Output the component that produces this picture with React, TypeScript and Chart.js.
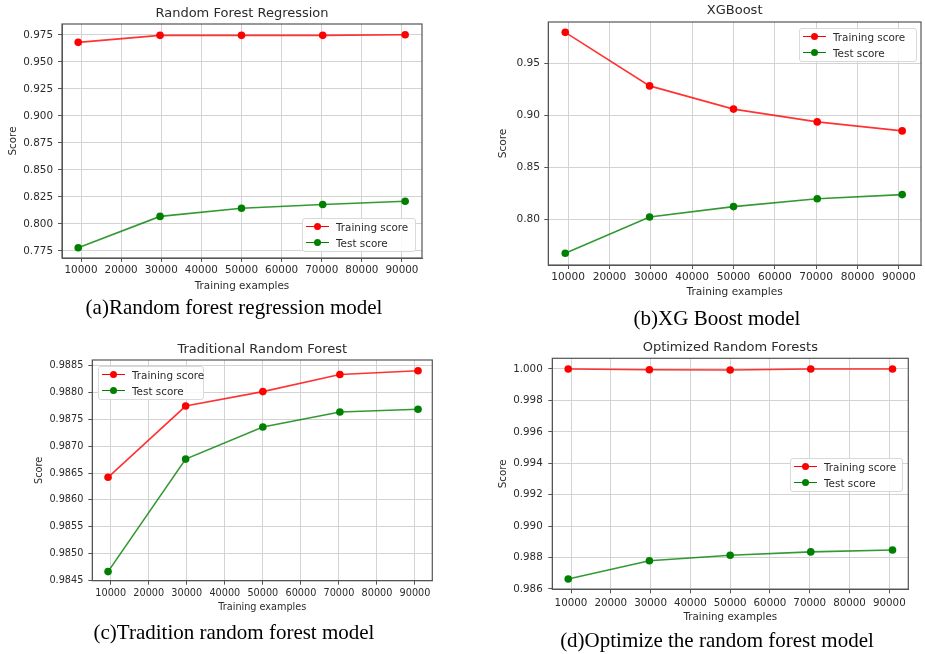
import React, { useEffect, useRef } from "react";
import { Chart, registerables } from "chart.js";
Chart.register(...registerables);

// ---------- data ----------
const trainSizes = [9300, 29700, 50000, 70250, 90800];
const xTicks = [10000, 20000, 30000, 40000, 50000, 60000, 70000, 80000, 90000];

const rfTrain = [0.968, 0.9745, 0.9745, 0.9745, 0.975];
const rfTest = [0.778, 0.807, 0.8145, 0.818, 0.821];
const rfYTicks = [0.775, 0.8, 0.825, 0.85, 0.875, 0.9, 0.925, 0.95, 0.975];

const xgbTrain = [0.98, 0.9284, 0.906, 0.8937, 0.885];
const xgbTest = [0.767, 0.802, 0.812, 0.8196, 0.8236];
const xgbYTicks = [0.8, 0.85, 0.9, 0.95];

const tradTrain = [0.98642, 0.98775, 0.98802, 0.98834, 0.98841];
const tradTest = [0.98466, 0.98676, 0.98736, 0.98764, 0.98769];
const tradYTicks = [0.9845, 0.985, 0.9855, 0.986, 0.9865, 0.987, 0.9875, 0.988, 0.9885];

const optTrain = [1.0, 0.99995, 0.99994, 1.0, 1.0];
const optTest = [0.98664, 0.9878, 0.98815, 0.98836, 0.98848];
const optYTicks = [0.986, 0.988, 0.99, 0.992, 0.994, 0.996, 0.998, 1.0];

const seriesLabels = ["Training score", "Test score"];
const titles = ["Random Forest Regression", "XGBoost", "Traditional Random Forest", "Optimized Random Forests"];
const captions = [
  "(a)Random forest regression model",
  "(b)XG Boost model",
  "(c)Tradition random forest model",
  "(d)Optimize the random forest model",
];

// ---------- layout ----------
type Panel = {
  left: number; top: number; w: number; h: number;
  train: number[]; test: number[]; yTicks: number[]; dec: number;
  xMin: number; xMax: number; yMin: number; yMax: number;
  yAxisW: number; xAxisH: number; padRight: number;
  titleTop: number; titleBottom: number;
  fs: number; xTickPad: number; yTickPad: number; xTitleBottom: number; yTitleTop: number;
  legend: { x: number; y: number; w: number };
  caption: { cx: number; cy: number };
};

const panels: Panel[] = [
  {
    left: 0, top: 0, w: 460, h: 296, train: rfTrain, test: rfTest, yTicks: rfYTicks, dec: 3,
    xMin: 5260, xMax: 95000, yMin: 0.7685, yMax: 0.985,
    yAxisW: 62, xAxisH: 38, padRight: 38, titleTop: 6.2, titleBottom: 2.2,
    fs: 10.4, xTickPad: 2.5, yTickPad: 5, xTitleBottom: 3.8, yTitleTop: 6.8,
    legend: { x: 302, y: 218, w: 114 }, caption: { cx: 234, cy: 307 },
  },
  {
    left: 460, top: 0, w: 465, h: 302, train: xgbTrain, test: xgbTest, yTicks: xgbYTicks, dec: 2,
    xMin: 5200, xMax: 95350, yMin: 0.7557, yMax: 0.99,
    yAxisW: 88.3, xAxisH: 37, padRight: 1.5, titleTop: 3, titleBottom: 3.4,
    fs: 10.6, xTickPad: 1.5, yTickPad: 4.3, xTitleBottom: 3, yTitleTop: 37,
    legend: { x: 799, y: 28, w: 118 }, caption: { cx: 717, cy: 318 },
  },
  {
    left: 0, top: 330, w: 460, h: 288, train: tradTrain, test: tradTest, yTicks: tradYTicks, dec: 4,
    xMin: 5160, xMax: 94550, yMin: 0.98449, yMax: 0.98861,
    yAxisW: 92.3, xAxisH: 37.3, padRight: 27.7, titleTop: 12.2, titleBottom: 2.2,
    fs: 9.7, xTickPad: 2.9, yTickPad: 5, xTitleBottom: 4.5, yTitleTop: 33.5,
    legend: { x: 98, y: 366, w: 106 }, caption: { cx: 234, cy: 632 },
  },
  {
    left: 460, top: 330, w: 465, h: 298, train: optTrain, test: optTest, yTicks: optYTicks, dec: 3,
    xMin: 5300, xMax: 94770, yMin: 0.98598, yMax: 1.00068,
    yAxisW: 92.3, xAxisH: 38.7, padRight: 16.7, titleTop: 9.5, titleBottom: 3.2,
    fs: 10.3, xTickPad: 3.4, yTickPad: 5.6, xTitleBottom: 4.6, yTitleTop: 37.2,
    legend: { x: 790, y: 458, w: 113 }, caption: { cx: 717, cy: 640 },
  },
];

const FONT = "'DejaVu Sans', sans-serif";
const TEXT = "#2b2b2b";
const RED = "#ff0000";
const GREEN = "#008000";

const framePlugin = {
  id: "frame",
  afterDraw(chart: any) {
    const { ctx, chartArea } = chart;
    ctx.save();
    ctx.strokeStyle = "#555";
    ctx.lineWidth = 1.2;
    ctx.strokeRect(chartArea.left, chartArea.top, chartArea.right - chartArea.left, chartArea.bottom - chartArea.top);
    ctx.restore();
  },
};

function buildConfig(p: Panel, title: string): any {
  const font = { family: FONT, size: p.fs };
  return {
    type: "line",
    data: {
      datasets: [
        {
          label: seriesLabels[0],
          data: trainSizes.map((x, i) => ({ x, y: p.train[i] })),
          borderColor: "rgba(255,0,0,0.8)",
          backgroundColor: RED,
          pointBackgroundColor: RED,
          pointBorderColor: RED,
          pointBorderWidth: 0,
          pointRadius: 3.8,
          borderWidth: 1.6,
          tension: 0,
        },
        {
          label: seriesLabels[1],
          data: trainSizes.map((x, i) => ({ x, y: p.test[i] })),
          borderColor: "rgba(0,128,0,0.8)",
          backgroundColor: GREEN,
          pointBackgroundColor: GREEN,
          pointBorderColor: GREEN,
          pointBorderWidth: 0,
          pointRadius: 3.8,
          borderWidth: 1.6,
          tension: 0,
        },
      ],
    },
    options: {
      responsive: false,
      animation: false,
      devicePixelRatio: 1,
      layout: { padding: { left: 0, right: p.padRight, top: 0, bottom: 0 } },
      plugins: {
        legend: { display: false },
        tooltip: { enabled: false },
        title: {
          display: true,
          text: title,
          fullSize: false,
          color: TEXT,
          font: { family: FONT, size: 13, weight: "normal" },
          padding: { top: p.titleTop, bottom: p.titleBottom },
        },
      },
      scales: {
        x: {
          type: "linear",
          min: p.xMin,
          max: p.xMax,
          afterBuildTicks: (s: any) => {
            s.ticks = xTicks.map((v) => ({ value: v }));
          },
          afterFit: (s: any) => {
            s.height = p.xAxisH;
          },
          ticks: {
            callback: (v: any) => String(v),
            font,
            color: TEXT,
            padding: p.xTickPad,
            maxRotation: 0,
            autoSkip: false,
          },
          grid: { color: "#d3d3d3", tickColor: "#555", tickLength: 4, lineWidth: 1 },
          border: { color: "#555" },
          title: {
            display: true,
            text: "Training examples",
            font,
            color: TEXT,
            padding: { top: 0, bottom: p.xTitleBottom },
          },
        },
        y: {
          type: "linear",
          min: p.yMin,
          max: p.yMax,
          afterBuildTicks: (s: any) => {
            s.ticks = p.yTicks.map((v) => ({ value: v }));
          },
          afterFit: (s: any) => {
            s.width = p.yAxisW;
          },
          ticks: {
            callback: (v: any) => Number(v).toFixed(p.dec),
            font,
            color: TEXT,
            padding: p.yTickPad,
            autoSkip: false,
          },
          grid: { color: "#d3d3d3", tickColor: "#555", tickLength: 4, lineWidth: 1 },
          border: { color: "#555" },
          title: {
            display: true,
            text: "Score",
            font,
            color: TEXT,
            padding: { top: p.yTitleTop, bottom: 0 },
          },
        },
      },
    },
    plugins: [framePlugin],
  };
}

function LegendBox({ x, y, w }: { x: number; y: number; w: number }) {
  const rows = [
    { label: seriesLabels[0], color: RED, cy: 8.5 },
    { label: seriesLabels[1], color: GREEN, cy: 24.5 },
  ];
  return (
    <div
      style={{
        position: "absolute",
        left: x,
        top: y,
        width: w,
        height: 34,
        boxSizing: "border-box",
        border: "1px solid #d9d9d9",
        borderRadius: 3,
        background: "rgba(255,255,255,0.85)",
      }}
    >
      {rows.map((r) => (
        <React.Fragment key={r.label}>
          <div
            style={{
              position: "absolute",
              left: 3,
              top: r.cy - 0.8 - 1,
              width: 23,
              height: 1.6,
              background: r.color,
            }}
          />
          <div
            style={{
              position: "absolute",
              left: 14.5 - 3.8,
              top: r.cy - 3.8 - 1,
              width: 7.6,
              height: 7.6,
              borderRadius: "50%",
              background: r.color,
            }}
          />
          <div
            style={{
              position: "absolute",
              left: 33,
              top: r.cy - 7 - 1,
              height: 14,
              lineHeight: "14px",
              fontFamily: FONT,
              fontSize: 10.4,
              color: TEXT,
              whiteSpace: "nowrap",
            }}
          >
            {r.label}
          </div>
        </React.Fragment>
      ))}
    </div>
  );
}

export default function App() {
  const refs = useRef<(HTMLCanvasElement | null)[]>([]);

  useEffect(() => {
    const charts = panels.map((p, i) => {
      const c = refs.current[i]!;
      return new Chart(c, buildConfig(p, titles[i]));
    });
    return () => charts.forEach((ch) => ch.destroy());
  }, []);

  return (
    <div style={{ position: "absolute", left: 0, top: 0, width: 925, height: 654, background: "#fff", overflow: "hidden" }}>
      {panels.map((p, i) => (
        <canvas
          key={"c" + i}
          ref={(el) => {
            refs.current[i] = el;
          }}
          width={p.w}
          height={p.h}
          style={{ position: "absolute", left: p.left, top: p.top, width: p.w, height: p.h }}
        />
      ))}
      {panels.map((p, i) => (
        <LegendBox key={"l" + i} x={p.legend.x} y={p.legend.y} w={p.legend.w} />
      ))}
      {panels.map((p, i) => (
        <div
          key={"t" + i}
          style={{
            position: "absolute",
            left: p.caption.cx - 230,
            top: p.caption.cy - 13,
            width: 460,
            height: 26,
            lineHeight: "26px",
            textAlign: "center",
            fontFamily: "'Liberation Serif', 'Times New Roman', serif",
            fontSize: 21,
            color: "#000",
            whiteSpace: "nowrap",
          }}
        >
          {captions[i]}
        </div>
      ))}
    </div>
  );
}
